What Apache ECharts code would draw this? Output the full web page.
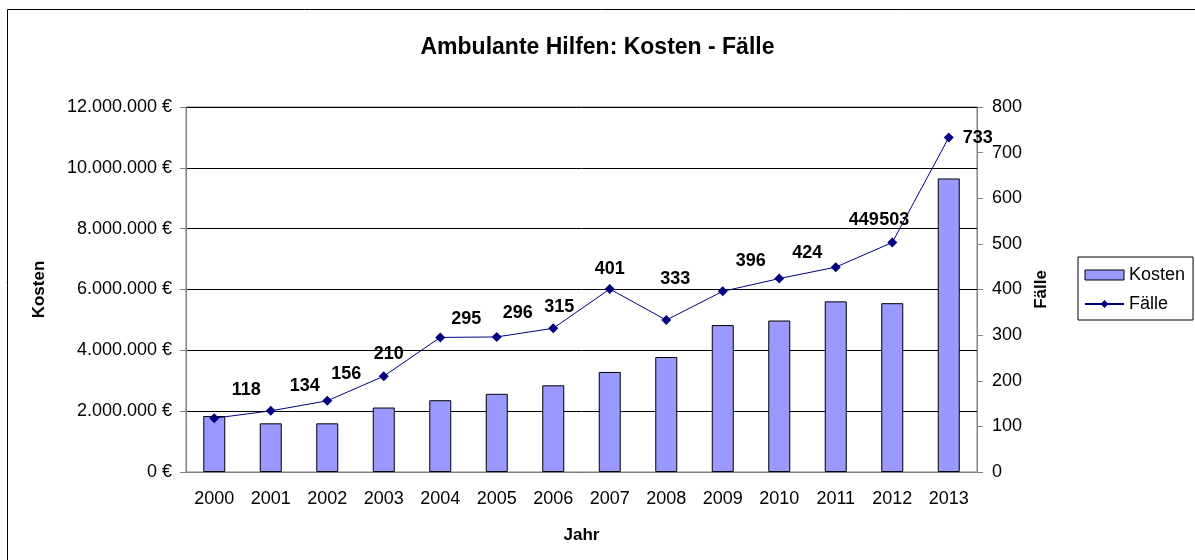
<!DOCTYPE html>
<html>
<head>
<meta charset="utf-8">
<script src="https://cdn.jsdelivr.net/npm/echarts@6/dist/echarts.min.js"></script>
<style>
  html, body { margin: 0; padding: 0; background: #fff; }
  #chart { width: 1195px; height: 560px; }
</style>
</head>
<body>
<div id="chart"></div>
<script>
// data
const jahre = ['2000', '2001', '2002', '2003', '2004', '2005', '2006', '2007', '2008', '2009', '2010', '2011', '2012', '2013'];
const kosten = [1840000, 1600000, 1600000, 2120000, 2360000, 2570000, 2850000, 3290000, 3780000, 4830000, 4980000, 5610000, 5550000, 9650000];
const faelle = [118, 134, 156, 210, 295, 296, 315, 401, 333, 396, 424, 449, 503, 733];

// where Excel put the data labels, relative to the point
const labelOffsets = [[32, -28], [34, -25], [19, -27], [5, -22], [26, -18], [21, -24], [6, -21],
  [0, -20], [9, -41], [28, -30], [28, -26], [28, -47], [2, -22], [29, 0]];

const fontFamily = '"Liberation Sans", Arial, sans-serif';

const euro = v => String(v).replace(/\B(?=(\d{3})+(?!\d))/g, '.') + ' €';

const chart = echarts.init(document.getElementById('chart'));

chart.setOption({
  animation: false,
  textStyle: {fontFamily, color: '#000'},
  title: {
    text: 'Ambulante Hilfen: Kosten - Fälle',
    left: 'center',
    top: 31,
    textStyle: {fontSize: 23, fontWeight: 'bold', color: '#000', fontFamily}
  },
  graphic: [{
    type: 'rect',
    shape: {x: 7.5, y: 9.5, width: 1200, height: 600},
    style: {fill: 'none', stroke: '#000', lineWidth: 1},
    silent: true
  }],
  legend: {
    orient: 'vertical',
    left: 1078,
    top: 257,
    padding: [9, 8, 7, 6],
    itemGap: 11,
    itemWidth: 39,
    itemHeight: 10,
    borderColor: '#000',
    borderWidth: 1,
    textStyle: {fontSize: 18, color: '#000', fontFamily},
    data: [
      {name: 'Kosten', icon: 'rect', itemStyle: {borderWidth: 1, borderColor: '#000'}},
      {name: 'Fälle'}
    ]
  },
  grid: {
    left: 186,
    right: 218,
    top: 107,
    bottom: 88,
    show: true,
    borderColor: '#808080',
    borderWidth: 1
  },
  xAxis: {
    type: 'category',
    data: jahre,
    name: 'Jahr',
    nameLocation: 'middle',
    nameGap: 55,
    nameTextStyle: {fontSize: 17, fontWeight: 'bold', color: '#000'},
    axisLine: {lineStyle: {color: '#808080'}},
    axisTick: {length: 6, lineStyle: {color: '#808080'}},
    axisLabel: {fontSize: 18, color: '#000', margin: 18}
  },
  yAxis: [
    {
      type: 'value',
      min: 0,
      max: 12000000,
      interval: 2000000,
      name: 'Kosten',
      nameLocation: 'middle',
      nameGap: 138,
      nameRotate: 90,
      nameTextStyle: {fontSize: 17, fontWeight: 'bold', color: '#000'},
      axisLine: {show: true, lineStyle: {color: '#808080'}},
      axisTick: {show: true, length: 6, lineStyle: {color: '#808080'}},
      axisLabel: {fontSize: 18, color: '#000', margin: 14, formatter: euro},
      splitLine: {lineStyle: {color: '#000', width: 1}}
    },
    {
      type: 'value',
      position: 'right',
      min: 0,
      max: 800,
      interval: 100,
      name: 'Fälle',
      nameLocation: 'middle',
      nameGap: 56,
      nameRotate: 90,
      nameTextStyle: {fontSize: 17, fontWeight: 'bold', color: '#000'},
      axisLine: {show: true, lineStyle: {color: '#808080'}},
      axisTick: {show: true, length: 6, lineStyle: {color: '#808080'}},
      axisLabel: {fontSize: 18, color: '#000', margin: 15},
      splitLine: {show: false}
    }
  ],
  series: [
    {
      name: 'Kosten',
      type: 'bar',
      data: kosten,
      barWidth: 22,
      itemStyle: {color: '#9999FF', borderColor: '#000', borderWidth: 1}
    },
    {
      name: 'Fälle',
      type: 'line',
      yAxisIndex: 1,
      data: faelle.map((v, i) => ({
        value: v,
        label: {offset: labelOffsets[i]}
      })),
      symbol: 'diamond',
      symbolSize: 10,
      lineStyle: {color: '#000080', width: 1},
      itemStyle: {color: '#000080'},
      label: {
        show: true,
        position: 'inside',
        align: 'center',
        verticalAlign: 'middle',
        fontSize: 18,
        fontWeight: 'bold',
        color: '#000',
        fontFamily
      },
      z: 5
    }
  ]
});
</script>
</body>
</html>
